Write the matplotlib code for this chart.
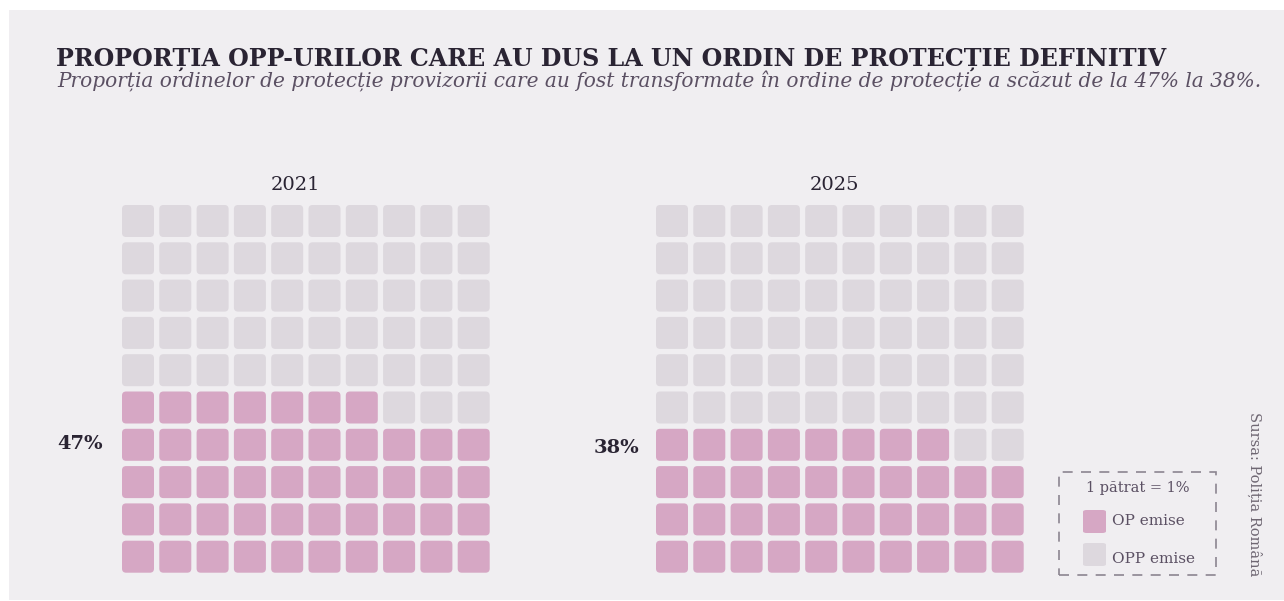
import matplotlib.pyplot as plt
from matplotlib.patches import FancyBboxPatch, Rectangle

# data
years = ['2021', '2025']
op_share = [47, 38]
pct_labels = ['47%', '38%']
title = 'PROPORȚIA OPP-URILOR CARE AU DUS LA UN ORDIN DE PROTECȚIE DEFINITIV'
subtitle = ('Proporția ordinelor de protecție provizorii care au fost transformate '
            'în ordine de protecție a scăzut de la 47% la 38%.')
legend_note = '1 pătrat = 1%'
legend_labels = ['OP emise', 'OPP emise']
source = 'Sursa: Poliția Română'

BG = '#f0eef1'
PINK = '#d6a7c4'
GREY = '#ddd8de'
DARK = '#2a2433'
MID = '#5b5063'

W, H = 1284, 601
plt.rcParams['font.family'] = ['DejaVu Serif']

fig = plt.figure(figsize=(W / 100, H / 100), dpi=100)
fig.patch.set_facecolor('white')


def px(x, y):
    return x / W, 1 - y / H


# grey panel
fig.patches.append(Rectangle(px(9, 600), 1, 590 / H, transform=fig.transFigure,
                             fc=BG, ec='none', zorder=-10))

renderer = fig.canvas.get_renderer()


def fit(t, width):
    bb = t.get_window_extent(renderer)
    t.set_fontsize(t.get_fontsize() * width / bb.width)


t = fig.text(*px(56, 66), title, fontsize=20, fontweight='bold', color=DARK, va='baseline')
fit(t, 1109)
t = fig.text(*px(57, 87), subtitle, fontsize=15, style='italic', color=MID, va='baseline')
fit(t, 1209)

gap = (1 - 0.858) / 2
size = 0.858
axes_left = [119.35, 653.35]
year_x = [295, 834]
label_x = [-0.45, -0.38]
label_y = [3.52, 3.42]
for i in range(len(years)):
    l, b = px(axes_left[i], 575.35)
    ax = fig.add_axes([l, b, 373 / W, 373 / H])
    ax.set_xlim(0, 10)
    ax.set_ylim(0, 10)
    ax.axis('off')
    for k in range(100):
        r, c = divmod(k, 10)
        color = PINK if k < op_share[i] else GREY
        ax.add_patch(FancyBboxPatch((c + gap, r + gap), size, size,
                                    boxstyle='round,pad=0,rounding_size=0.11',
                                    fc=color, ec='none'))
    ax.text(label_x[i], label_y[i], pct_labels[i], ha='right', va='center', fontsize=14,
            fontweight='bold', color=DARK)
    fig.text(*px(year_x[i], 190), years[i], ha='center', va='baseline',
             fontsize=14, color=DARK)

# legend
fig.patches.append(Rectangle(px(1059, 575), 157 / W, 103 / H, transform=fig.transFigure,
                             fc='none', ec='#8c8590', lw=1.2, ls=(0, (6, 5))))
fig.text(*px(1138, 488), legend_note, ha='center', va='center', fontsize=10.5, color=MID)
sw_y = [533, 566]
sw_colors = [PINK, GREY]
txt_y = [521, 559]
for j in range(len(legend_labels)):
    fig.patches.append(FancyBboxPatch(px(1083, sw_y[j]), 23 / W, 23 / H,
                                      boxstyle='round,pad=0,rounding_size=0.003',
                                      transform=fig.transFigure,
                                      fc=sw_colors[j], ec='none'))
    fig.text(*px(1112, txt_y[j]), legend_labels[j], ha='left', va='center',
             fontsize=11, color=MID)

fig.text(*px(1255, 494), source, rotation=270, ha='center', va='center',
         fontsize=10.5, color='#6e6672')

fig.savefig('out.png', dpi=100, facecolor=fig.get_facecolor())
